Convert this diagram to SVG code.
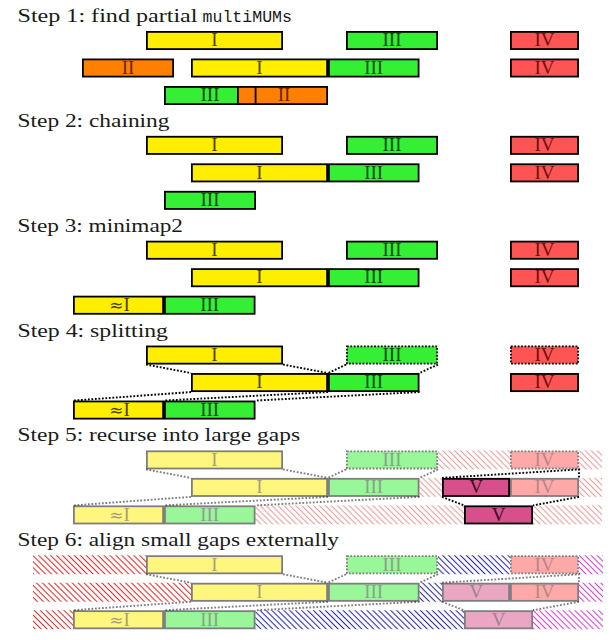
<svg xmlns="http://www.w3.org/2000/svg" width="611" height="640" viewBox="0 0 611 640">
<style>
.title{font-family:"Liberation Serif","Times New Roman",serif;font-size:18px;fill:#1a1a1a}
.mono{font-family:"Liberation Mono",monospace;font-size:16.5px;fill:#1a1a1a}
.box{stroke:#000;stroke-width:1.8}
.dot{stroke-dasharray:1.8 1.6}
.y{fill:#ffee00}.g{fill:#35ef35}.r{fill:#ff5454}.o{fill:#ff8000}.v{fill:#d84f8b}
.lbl{font-family:"Liberation Serif","Times New Roman",serif;font-size:19px;text-anchor:middle}
.ap{font-family:"DejaVu Serif",serif;font-size:17px}
.ty{fill:#4a4300}.tg{fill:#0f4a0f}.tr{fill:#6e1212}.to{fill:#6a2400}.tv{fill:#3e0720}
.conn{fill:none;stroke:#000;stroke-width:1.9;stroke-dasharray:1.8 1.7}
.fade{opacity:.5}
</style>
<defs>
<pattern id="h5" patternUnits="userSpaceOnUse" width="4.2" height="4.2" patternTransform="rotate(-45)"><line x1="2.1" y1="-1" x2="2.1" y2="5.2" stroke="#ec9c9c" stroke-width="1.1"/></pattern>
<pattern id="hr" patternUnits="userSpaceOnUse" width="4.2" height="4.2" patternTransform="rotate(-45)"><line x1="2.1" y1="-1" x2="2.1" y2="5.2" stroke="#d83030" stroke-width="1.1"/></pattern>
<pattern id="hb" patternUnits="userSpaceOnUse" width="4.2" height="4.2" patternTransform="rotate(-45)"><line x1="2.1" y1="-1" x2="2.1" y2="5.2" stroke="#2a2a9c" stroke-width="1.1"/></pattern>
<pattern id="hm" patternUnits="userSpaceOnUse" width="4.2" height="4.2" patternTransform="rotate(-45)"><line x1="2.1" y1="-1" x2="2.1" y2="5.2" stroke="#d044d0" stroke-width="1.1"/></pattern>
</defs>

<!-- titles -->
<g id="titles">
<text class="title" x="17.5" y="22" textLength="180" lengthAdjust="spacingAndGlyphs">Step 1: find partial</text>
<text class="mono" x="202.5" y="22" textLength="89.5" lengthAdjust="spacingAndGlyphs">multiMUMs</text>
<text class="title" x="17.5" y="126.85" textLength="152" lengthAdjust="spacingAndGlyphs">Step 2: chaining</text>
<text class="title" x="17.5" y="231.7" textLength="165.5" lengthAdjust="spacingAndGlyphs">Step 3: minimap2</text>
<text class="title" x="17.5" y="336.55" textLength="150.5" lengthAdjust="spacingAndGlyphs">Step 4: splitting</text>
<text class="title" x="17.5" y="441.4" textLength="282.5" lengthAdjust="spacingAndGlyphs">Step 5: recurse into large gaps</text>
<text class="title" x="17.5" y="546.25" textLength="321.5" lengthAdjust="spacingAndGlyphs">Step 6: align small gaps externally</text>
</g>

<!-- hatching -->
<g id="hatch5" transform="translate(0,450.4)">
<rect x="438" y="0" width="72" height="19" fill="url(#h5)"/>
<rect x="579" y="0" width="23" height="19" fill="url(#h5)"/>
<rect x="419.5" y="27.5" width="22.5" height="19" fill="url(#h5)"/>
<rect x="579" y="27.5" width="23" height="19" fill="url(#h5)"/>
<rect x="255.5" y="55" width="208.5" height="19" fill="url(#h5)"/>
<rect x="533" y="55" width="69" height="19" fill="url(#h5)"/>
</g>
<g id="hatch6" transform="translate(0,555.25)">
<rect x="33" y="0" width="113" height="19" fill="url(#hr)"/>
<rect x="33" y="27.5" width="158" height="19" fill="url(#hr)"/>
<rect x="33" y="55" width="40" height="19" fill="url(#hr)"/>
<rect x="438" y="0" width="72" height="19" fill="url(#hb)"/>
<rect x="419.5" y="27.5" width="22.5" height="19" fill="url(#hb)"/>
<rect x="255.5" y="55" width="208.5" height="19" fill="url(#hb)"/>
<rect x="579" y="0" width="24" height="19" fill="url(#hm)"/>
<rect x="579" y="27.5" width="24" height="19" fill="url(#hm)"/>
<rect x="533" y="55" width="70" height="19" fill="url(#hm)"/>
</g>

<!-- connectors -->
<g id="connectors">
<g id="conn4" transform="translate(0,345.55)">
<path class="conn" d="M146,19L191,27.5M283,19L328,27.5M346,19L328,27.5M438,19L419.5,27.5M191,46.5L73,55M328,46.5L164,55M419.5,46.5L255.5,55"/>
</g>
<g id="conn5" transform="translate(0,450.4)">
<path class="conn fade" d="M146,19L191,27.5M283,19L328,27.5M346,19L328,27.5M438,19L419.5,27.5M191,46.5L73,55M328,46.5L164,55M419.5,46.5L255.5,55"/>
<path class="conn" d="M442,27.5L579,19L579,27.5M442,46.5L464,55M579,46.5L533,55"/>
</g>
<g id="conn6" transform="translate(0,555.25)" class="fade">
<path class="conn" d="M146,19L191,27.5M283,19L328,27.5M346,19L328,27.5M438,19L419.5,27.5M191,46.5L73,55M328,46.5L164,55M419.5,46.5L255.5,55M442,27.5L579,19L579,27.5M442,46.5L464,55M579,46.5L533,55"/>
</g>
</g>

<!-- Step 1 -->
<g id="step1" transform="translate(0,31)">
<g id="s1-I-a"><rect class="box y" x="146.9" y="0.9" width="135.2" height="17.2"/><text class="lbl ty" x="214.5" y="15.3">I</text></g>
<g id="s1-III-a"><rect class="box g" x="346.9" y="0.9" width="90.2" height="17.2"/><text class="lbl tg" x="392" y="15.3">III</text></g>
<g id="s1-IV-a"><rect class="box r" x="510.9" y="0.9" width="67.2" height="17.2"/><text class="lbl tr" x="544.5" y="15.3">IV</text></g>
<g id="s1-II-b"><rect class="box o" x="82.9" y="28.4" width="90.2" height="17.2"/><text class="lbl to" x="128" y="42.8">II</text></g>
<g id="s1-I-b"><rect class="box y" x="191.9" y="28.4" width="135.2" height="17.2"/><text class="lbl ty" x="259.5" y="42.8">I</text></g>
<g id="s1-III-b"><rect class="box g" x="328.9" y="28.4" width="89.7" height="17.2"/><text class="lbl tg" x="373.7" y="42.8">III</text></g>
<g id="s1-IV-b"><rect class="box r" x="510.9" y="28.4" width="67.2" height="17.2"/><text class="lbl tr" x="544.5" y="42.8">IV</text></g>
<g id="s1-III-c"><rect class="box g" x="164.9" y="55.9" width="90.2" height="17.2"/><text class="lbl tg" x="210" y="70.3">III</text></g>
<g id="s1-II-c"><rect class="box o" x="237.9" y="55.9" width="89.2" height="17.2"/><line x1="255.6" y1="55" x2="255.6" y2="74" stroke="#000" stroke-width="1.8"/><text class="lbl to" x="284" y="70.3">II</text></g>
</g>

<!-- Step 2 -->
<g id="step2" transform="translate(0,135.85)">
<g id="s2-I-a"><rect class="box y" x="146.9" y="0.9" width="135.2" height="17.2"/><text class="lbl ty" x="214.5" y="15.3">I</text></g>
<g id="s2-III-a"><rect class="box g" x="346.9" y="0.9" width="90.2" height="17.2"/><text class="lbl tg" x="392" y="15.3">III</text></g>
<g id="s2-IV-a"><rect class="box r" x="510.9" y="0.9" width="67.2" height="17.2"/><text class="lbl tr" x="544.5" y="15.3">IV</text></g>
<g id="s2-I-b"><rect class="box y" x="191.9" y="28.4" width="135.2" height="17.2"/><text class="lbl ty" x="259.5" y="42.8">I</text></g>
<g id="s2-III-b"><rect class="box g" x="328.9" y="28.4" width="89.7" height="17.2"/><text class="lbl tg" x="373.7" y="42.8">III</text></g>
<g id="s2-IV-b"><rect class="box r" x="510.9" y="28.4" width="67.2" height="17.2"/><text class="lbl tr" x="544.5" y="42.8">IV</text></g>
<g id="s2-III-c"><rect class="box g" x="164.9" y="55.9" width="90.2" height="17.2"/><text class="lbl tg" x="210" y="70.3">III</text></g>
</g>

<!-- Step 3 -->
<g id="step3" transform="translate(0,240.7)">
<g id="s3-I-a"><rect class="box y" x="146.9" y="0.9" width="135.2" height="17.2"/><text class="lbl ty" x="214.5" y="15.3">I</text></g>
<g id="s3-III-a"><rect class="box g" x="346.9" y="0.9" width="90.2" height="17.2"/><text class="lbl tg" x="392" y="15.3">III</text></g>
<g id="s3-IV-a"><rect class="box r" x="510.9" y="0.9" width="67.2" height="17.2"/><text class="lbl tr" x="544.5" y="15.3">IV</text></g>
<g id="s3-I-b"><rect class="box y" x="191.9" y="28.4" width="135.2" height="17.2"/><text class="lbl ty" x="259.5" y="42.8">I</text></g>
<g id="s3-III-b"><rect class="box g" x="328.9" y="28.4" width="89.7" height="17.2"/><text class="lbl tg" x="373.7" y="42.8">III</text></g>
<g id="s3-IV-b"><rect class="box r" x="510.9" y="28.4" width="67.2" height="17.2"/><text class="lbl tr" x="544.5" y="42.8">IV</text></g>
<g id="s3-aI-c"><rect class="box y" x="73.9" y="55.9" width="89.2" height="17.2"/><text class="lbl ty" x="119.5" y="70.3"><tspan class="ap">≈</tspan>I</text></g>
<g id="s3-III-c"><rect class="box g" x="164.9" y="55.9" width="89.7" height="17.2"/><text class="lbl tg" x="209.7" y="70.3">III</text></g>
</g>

<!-- Step 4 -->
<g id="step4" transform="translate(0,345.55)">
<g id="s4-I-a"><rect class="box y" x="146.9" y="0.9" width="135.2" height="17.2"/><text class="lbl ty" x="214.5" y="15.3">I</text></g>
<g id="s4-III-a"><rect class="box g dot" x="346.9" y="0.9" width="90.2" height="17.2"/><text class="lbl tg" x="392" y="15.3">III</text></g>
<g id="s4-IV-a"><rect class="box r dot" x="510.9" y="0.9" width="67.2" height="17.2"/><text class="lbl tr" x="544.5" y="15.3">IV</text></g>
<g id="s4-I-b"><rect class="box y" x="191.9" y="28.4" width="135.2" height="17.2"/><text class="lbl ty" x="259.5" y="42.8">I</text></g>
<g id="s4-III-b"><rect class="box g" x="328.9" y="28.4" width="89.7" height="17.2"/><text class="lbl tg" x="373.7" y="42.8">III</text></g>
<g id="s4-IV-b"><rect class="box r" x="510.9" y="28.4" width="67.2" height="17.2"/><text class="lbl tr" x="544.5" y="42.8">IV</text></g>
<g id="s4-aI-c"><rect class="box y" x="73.9" y="55.9" width="89.2" height="17.2"/><text class="lbl ty" x="119.5" y="70.3"><tspan class="ap">≈</tspan>I</text></g>
<g id="s4-III-c"><rect class="box g" x="164.9" y="55.9" width="89.7" height="17.2"/><text class="lbl tg" x="209.7" y="70.3">III</text></g>
</g>

<!-- Step 5 -->
<g id="step5" transform="translate(0,450.4)">
<g id="s5-I-a" class="fade"><rect class="box y" x="146.9" y="0.9" width="135.2" height="17.2"/><text class="lbl ty" x="214.5" y="15.3">I</text></g>
<g id="s5-III-a" class="fade"><rect class="box g dot" x="346.9" y="0.9" width="90.2" height="17.2"/><text class="lbl tg" x="392" y="15.3">III</text></g>
<g id="s5-IV-a" class="fade"><rect class="box r dot" x="510.9" y="0.9" width="67.2" height="17.2"/><text class="lbl tr" x="544.5" y="15.3">IV</text></g>
<g id="s5-I-b" class="fade"><rect class="box y" x="191.9" y="28.4" width="135.2" height="17.2"/><text class="lbl ty" x="259.5" y="42.8">I</text></g>
<g id="s5-III-b" class="fade"><rect class="box g" x="328.9" y="28.4" width="89.7" height="17.2"/><text class="lbl tg" x="373.7" y="42.8">III</text></g>
<g id="s5-IV-b" class="fade"><rect class="box r" x="510.9" y="28.4" width="67.2" height="17.2"/><text class="lbl tr" x="544.5" y="42.8">IV</text></g>
<g id="s5-V-b"><rect class="box v" x="442.9" y="28.4" width="66.2" height="17.2"/><text class="lbl tv" x="476" y="42.8">V</text></g>
<g id="s5-aI-c" class="fade"><rect class="box y" x="73.9" y="55.9" width="89.2" height="17.2"/><text class="lbl ty" x="119.5" y="70.3"><tspan class="ap">≈</tspan>I</text></g>
<g id="s5-III-c" class="fade"><rect class="box g" x="164.9" y="55.9" width="89.7" height="17.2"/><text class="lbl tg" x="209.7" y="70.3">III</text></g>
<g id="s5-V-c"><rect class="box v" x="464.9" y="55.9" width="67.2" height="17.2"/><text class="lbl tv" x="498.5" y="70.3">V</text></g>
</g>

<!-- Step 6 -->
<g id="step6" transform="translate(0,555.25)">
<g id="s6-I-a" class="fade"><rect class="box y" x="146.9" y="0.9" width="135.2" height="17.2"/><text class="lbl ty" x="214.5" y="15.3">I</text></g>
<g id="s6-III-a" class="fade"><rect class="box g dot" x="346.9" y="0.9" width="90.2" height="17.2"/><text class="lbl tg" x="392" y="15.3">III</text></g>
<g id="s6-IV-a" class="fade"><rect class="box r dot" x="510.9" y="0.9" width="67.2" height="17.2"/><text class="lbl tr" x="544.5" y="15.3">IV</text></g>
<g id="s6-I-b" class="fade"><rect class="box y" x="191.9" y="28.4" width="135.2" height="17.2"/><text class="lbl ty" x="259.5" y="42.8">I</text></g>
<g id="s6-III-b" class="fade"><rect class="box g" x="328.9" y="28.4" width="89.7" height="17.2"/><text class="lbl tg" x="373.7" y="42.8">III</text></g>
<g id="s6-IV-b" class="fade"><rect class="box r" x="510.9" y="28.4" width="67.2" height="17.2"/><text class="lbl tr" x="544.5" y="42.8">IV</text></g>
<g id="s6-V-b" class="fade"><rect class="box v" x="442.9" y="28.4" width="66.2" height="17.2"/><text class="lbl tv" x="476" y="42.8">V</text></g>
<g id="s6-aI-c" class="fade"><rect class="box y" x="73.9" y="55.9" width="89.2" height="17.2"/><text class="lbl ty" x="119.5" y="70.3"><tspan class="ap">≈</tspan>I</text></g>
<g id="s6-III-c" class="fade"><rect class="box g" x="164.9" y="55.9" width="89.7" height="17.2"/><text class="lbl tg" x="209.7" y="70.3">III</text></g>
<g id="s6-V-c" class="fade"><rect class="box v" x="464.9" y="55.9" width="67.2" height="17.2"/><text class="lbl tv" x="498.5" y="70.3">V</text></g>
</g>
</svg>
